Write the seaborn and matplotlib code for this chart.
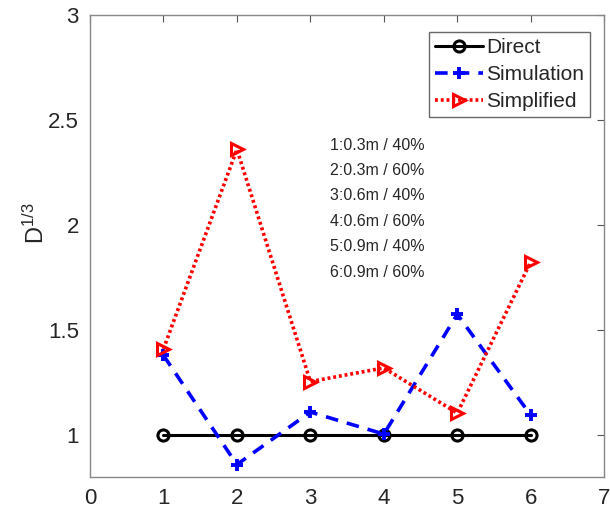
import matplotlib
matplotlib.use("Agg")
import matplotlib.pyplot as plt
import seaborn as sns
import pandas as pd

# values
cases = [1, 2, 3, 4, 5, 6]
direct = [1.0, 1.0, 1.0, 1.0, 1.0, 1.0]
simulation = [1.38, 0.86, 1.11, 1.005, 1.575, 1.095]
simplified = [1.41, 2.36, 1.255, 1.32, 1.105, 1.825]
case_labels = ["1:0.3m / 40%", "2:0.3m / 60%", "3:0.6m / 40%",
               "4:0.6m / 60%", "5:0.9m / 40%", "6:0.9m / 60%"]

sns.set_style("white")
plt.rcParams["font.family"] = ["Liberation Sans", "DejaVu Sans"]
plt.rcParams["mathtext.default"] = "regular"

df = pd.DataFrame({"case": cases, "Direct": direct,
                   "Simulation": simulation, "Simplified": simplified})

fig = plt.figure(figsize=(6.1, 5.12), dpi=100)
ax = fig.add_axes([0.1475, 0.068, 0.843, 0.903])

sns.lineplot(data=df, x="case", y="Direct", ax=ax, color="black", lw=2.2,
             marker="o", markersize=8, markerfacecolor="none",
             markeredgewidth=2.2, markeredgecolor="black", label="Direct")
sns.lineplot(data=df, x="case", y="Simulation", ax=ax, color="blue", lw=2.6,
             marker="+", markersize=9, markeredgewidth=2.8,
             markeredgecolor="blue", label="Simulation")
ax.lines[-1].set_dashes([3.5, 2.5])
sns.lineplot(data=df, x="case", y="Simplified", ax=ax, color="red", lw=2.6,
             marker=">", markersize=9, markerfacecolor="none",
             markeredgewidth=2.2, markeredgecolor="red", label="Simplified")
ax.lines[-1].set_dashes([0.8, 0.8])

ax.set_xlim(0, 7)
ax.set_ylim(0.8, 3)
ax.set_xticks(range(0, 8))
ax.set_yticks([1, 1.5, 2, 2.5, 3])
ax.set_yticklabels(["1", "1.5", "2", "2.5", "3"])
ax.set_xlabel("")
ax.set_ylabel("D$^{1/3}$", fontsize=17)
ax.yaxis.set_label_coords(-0.08, 0.55)
ax.tick_params(direction="in", length=5, labelsize=16, color="#555555",
               top=True, right=True, pad=8)
for s in ax.spines.values():
    s.set_color("#888888")
    s.set_linewidth(1)

for i, t in enumerate(case_labels):
    ax.text(3.27, 2.38 - i * 0.121, t, fontsize=11.5, va="center", ha="left")

leg = ax.legend(loc="upper right", bbox_to_anchor=(0.973, 0.963), fontsize=15,
                frameon=True, fancybox=False, edgecolor="#444444",
                handlelength=2.3, borderpad=0.3, labelspacing=0.38,
                handletextpad=0.15, borderaxespad=0)
leg.get_frame().set_linewidth(1)

fig.savefig("out.png", dpi=100)
